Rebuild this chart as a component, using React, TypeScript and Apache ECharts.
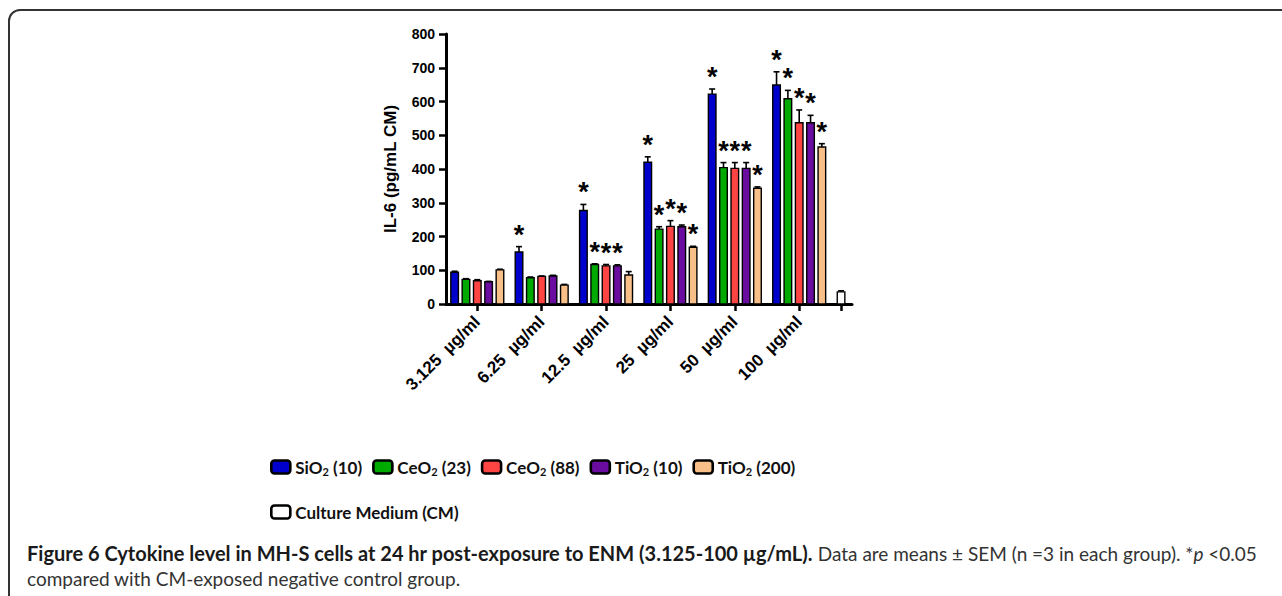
import React, { useEffect, useRef } from "react";
import * as echarts from "echarts";

// ---- data ----
const categories = ["3.125  µg/ml", "6.25  µg/ml", "12.5  µg/ml", "25  µg/ml", "50  µg/ml", "100  µg/ml"];
const seriesNames = ["SiO2 (10)", "CeO2 (23)", "CeO2 (88)", "TiO2 (10)", "TiO2 (200)"];
const controlName = "Culture Medium (CM)";

const sio2_10Mean = [94, 154, 277, 420, 622, 649];
const sio2_10Sem = [3, 16, 18, 16, 15, 39];
const sio2_10Star = [0, 1, 1, 1, 1, 1];

const ceo2_23Mean = [73, 78, 117, 222, 404, 608];
const ceo2_23Sem = [2, 2, 2, 7, 15, 25];
const ceo2_23Star = [0, 0, 1, 1, 1, 1];

const ceo2_88Mean = [69, 82, 113, 230, 402, 537];
const ceo2_88Sem = [3, 1, 4, 17, 17, 38];
const ceo2_88Star = [0, 0, 1, 1, 1, 1];

const tio2_10Mean = [66, 83, 113, 229, 402, 537];
const tio2_10Sem = [1, 2, 3, 5, 17, 22];
const tio2_10Star = [0, 0, 1, 1, 1, 1];

const tio2_200Mean = [101, 56, 86, 168, 343, 465];
const tio2_200Sem = [2, 2, 10, 3, 4, 10];
const tio2_200Star = [0, 0, 0, 1, 1, 1];

const cmMean = [36];
const cmSem = [3];
const cmStar = [0];

const yTicks = [0, 100, 200, 300, 400, 500, 600, 700, 800];

// ---- styling / layout constants ----
const COLORS = ["#0000cc", "#00aa00", "#ff4444", "#6a0ca0", "#f8bf88"];
const CM_COLOR = "#ffffff";
const CM_POSITION = 5.65;
const PITCH = 0.176;
const BAR_W = 0.118;
const AX_FONT = "'Liberation Sans', Arial, sans-serif";

const groups = [
  { mean: sio2_10Mean, sem: sio2_10Sem, star: sio2_10Star },
  { mean: ceo2_23Mean, sem: ceo2_23Sem, star: ceo2_23Star },
  { mean: ceo2_88Mean, sem: ceo2_88Sem, star: ceo2_88Star },
  { mean: tio2_10Mean, sem: tio2_10Sem, star: tio2_10Star },
  { mean: tio2_200Mean, sem: tio2_200Sem, star: tio2_200Star },
];

function makeRender(offset: number, color: string) {
  return (params: any, api: any) => {
    const g = api.value(0);
    const v = api.value(1);
    const e = api.value(2);
    const s = api.value(3);
    const unit = api.size([1, 0])[0];
    const base = api.coord([g, 0]);
    const cx = base[0] + offset * PITCH * unit;
    const yTop = api.coord([g, v])[1];
    const yErr = api.coord([g, v + e])[1];
    const w = BAR_W * unit;
    const children: any[] = [
      { type: "line", shape: { x1: cx, y1: yTop, x2: cx, y2: yErr }, style: { stroke: "#000", lineWidth: 1.6 } },
      { type: "line", shape: { x1: cx - 3, y1: yErr, x2: cx + 3, y2: yErr }, style: { stroke: "#000", lineWidth: 1.6 } },
      {
        type: "rect",
        shape: { x: cx - w / 2, y: yTop, width: w, height: base[1] - yTop },
        style: { fill: color, stroke: "#000", lineWidth: 1.4 },
      },
    ];
    if (s) {
      children.push({
        type: "text",
        x: cx,
        y: yErr - 12,
        style: {
          text: "*",
          fill: "#000",
          font: "bold 27px " + AX_FONT,
          align: "center",
          verticalAlign: "middle",
        },
      });
    }
    return { type: "group", children };
  };
}

const legendRich = {
  sub: { fontSize: 11, fontWeight: "bold", fontFamily: "Lato", color: "#111", verticalAlign: "bottom", lineHeight: 10 },
};
const legendFormatter = (name: string) => name.replace(/O2 /, "O{sub|2} ");

export default function App() {
  const ref = useRef<HTMLDivElement>(null);
  useEffect(() => {
    if (!ref.current) return;
    const chart = echarts.init(ref.current, null, { renderer: "svg" });
    const series: any[] = groups.map((grp, si) => ({
      type: "custom",
      name: seriesNames[si],
      itemStyle: { color: COLORS[si] },
      encode: { x: 0, y: 1 },
      renderItem: makeRender(si - 2, COLORS[si]),
      data: grp.mean.map((m, gi) => [gi, m, grp.sem[gi], grp.star[gi]]),
    }));
    series.push({
      type: "custom",
      name: controlName,
      itemStyle: { color: CM_COLOR },
      encode: { x: 0, y: 1 },
      renderItem: makeRender(0, CM_COLOR),
      data: cmMean.map((m, i) => [CM_POSITION, m, cmSem[i], cmStar[i]]),
    });

    const legendBase = {
      orient: "horizontal",
      padding: 0,
      itemWidth: 19,
      itemHeight: 13,
      itemGap: 10,
      icon: "roundRect",
      selectedMode: false,
      itemStyle: { borderColor: "#000", borderWidth: 2.6 },
      textStyle: { fontFamily: "Lato", fontWeight: "bold", fontSize: 17, color: "#111", lineHeight: 20, rich: legendRich },
      formatter: legendFormatter,
    };

    chart.setOption({
      animation: false,
      backgroundColor: "#ffffff",
      grid: { left: 446, right: 430, top: 34, bottom: 292, containLabel: false, outerBoundsMode: "none" },
      xAxis: {
        type: "value",
        min: -0.486,
        max: 5.82,
        axisLine: { show: true, onZero: false, lineStyle: { color: "#000", width: 3 } },
        axisTick: { show: true, length: 7, lineStyle: { color: "#000", width: 2.5 }, customValues: [0, 1, 2, 3, 4, 5, CM_POSITION] },
        axisLabel: {
          customValues: [0, 1, 2, 3, 4, 5],
          formatter: (v: number) => categories[Math.round(v)] ?? "",
          rotate: 45,
          margin: 15,
          color: "#000",
          fontFamily: AX_FONT,
          fontWeight: "bold",
          fontSize: 17,
        },
        splitLine: { show: false },
      },
      yAxis: {
        type: "value",
        min: yTicks[0],
        max: yTicks[yTicks.length - 1],
        interval: 100,
        name: "IL-6 (pg/mL CM)",
        nameLocation: "middle",
        nameGap: 47,
        nameTextStyle: { fontFamily: AX_FONT, fontWeight: "bold", fontSize: 17, color: "#000" },
        axisLine: { show: true, onZero: false, lineStyle: { color: "#000", width: 3 } },
        axisTick: { show: true, length: 7, lineStyle: { color: "#000", width: 2.5 } },
        axisLabel: { margin: 11, color: "#000", fontFamily: AX_FONT, fontWeight: "bold", fontSize: 14 },
        splitLine: { show: false },
      },
      legend: [
        { ...legendBase, data: seriesNames, left: 270, top: 457 },
        { ...legendBase, data: [controlName], left: 270, top: 502 },
      ],
      graphic: [
        {
          type: "rect",
          shape: { x: 9, y: 10, width: 1320, height: 640, r: 11 },
          style: { fill: "none", stroke: "#333", lineWidth: 2 },
          silent: true,
        },
        {
          type: "text",
          x: 27,
          y: 553,
          style: {
            text:
              "{b|Figure 6 Cytokine level in MH-S cells at 24 hr post-exposure to ENM (3.125-100 µg/mL).} Data are means ± SEM (n =3 in each group). *{i|p} <0.05",
            font: "19px Lato",
            fill: "#333",
            verticalAlign: "middle",
            rich: {
              b: { fontFamily: "Lato", fontWeight: "bold", fontSize: 20, fill: "#1a1a1a" },
              i: { fontFamily: "Lato", fontStyle: "italic", fontSize: 19, fill: "#333" },
            },
          },
        },
        {
          type: "text",
          x: 27,
          y: 578,
          style: { text: "compared with CM-exposed negative control group.", font: "19px Lato", fill: "#333", verticalAlign: "middle" },
        },
      ],
      series,
    });
    return () => chart.dispose();
  }, []);
  return <div ref={ref} style={{ position: "fixed", left: 0, top: 0, width: 1282, height: 596 }} />;
}
